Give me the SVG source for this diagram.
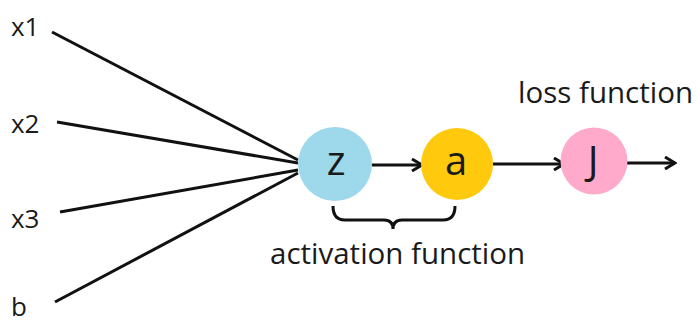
<svg xmlns="http://www.w3.org/2000/svg" width="696" height="323" viewBox="0 0 696 323">
  <style>
    text { font-family: "Open Sans", "Noto Sans", sans-serif; fill: #1a1a1a; }
    .lbl { font-size: 26px; }
    .note { font-size: 29.5px; }
    .node { font-size: 40px; text-anchor: middle; }
    .edge { stroke: #111; stroke-width: 3; fill: none; }
  </style>
  <defs>
    <marker id="arrow" markerWidth="14" markerHeight="14" refX="12" refY="7" orient="auto" markerUnits="userSpaceOnUse">
      <path d="M2,1 L12,7 L2,13" fill="none" stroke="#111" stroke-width="3" stroke-linejoin="miter"/>
    </marker>
  </defs>
  <rect width="696" height="323" fill="#fff"/>

  <g id="connectors">
    <line class="edge" x1="52" y1="32" x2="298" y2="160"/>
    <line class="edge" x1="57" y1="122" x2="298" y2="163"/>
    <line class="edge" x1="60" y1="212" x2="298" y2="170"/>
    <line class="edge" x1="55" y1="302" x2="298" y2="173"/>
    <line class="edge" x1="372" y1="165" x2="422" y2="165" marker-end="url(#arrow)"/>
    <line class="edge" x1="493" y1="164" x2="564" y2="164" marker-end="url(#arrow)"/>
    <line class="edge" x1="627" y1="163" x2="675" y2="163" marker-end="url(#arrow)"/>
    <path class="edge" stroke-width="2.5" d="M333,206 Q333,220 345,220 L384,220 Q393,220 393,229 Q393,220 402,220 L443,220 Q455,220 455,206"/>
  </g>

  <g id="in-x1"><text class="lbl" x="11" y="36">x1</text></g>
  <g id="in-x2"><text class="lbl" x="11" y="133">x2</text></g>
  <g id="in-x3"><text class="lbl" x="11" y="228">x3</text></g>
  <g id="in-b"><text class="lbl" x="11" y="316">b</text></g>

  <g id="node-z">
    <circle cx="335" cy="164" r="37" fill="#9dd9ea"/>
    <text class="node" x="336" y="175">z</text>
  </g>
  <g id="node-a">
    <circle cx="457" cy="164" r="36" fill="#ffc90e"/>
    <text class="node" x="456" y="175">a</text>
  </g>
  <g id="node-J">
    <circle cx="594" cy="161" r="33.5" fill="#ffaacb"/>
    <text class="node" x="593" y="175">J</text>
  </g>

  <g id="note-activation"><text class="note" x="270" y="264">activation function</text></g>
  <g id="note-loss"><text class="note" x="518" y="103">loss function</text></g>
</svg>
